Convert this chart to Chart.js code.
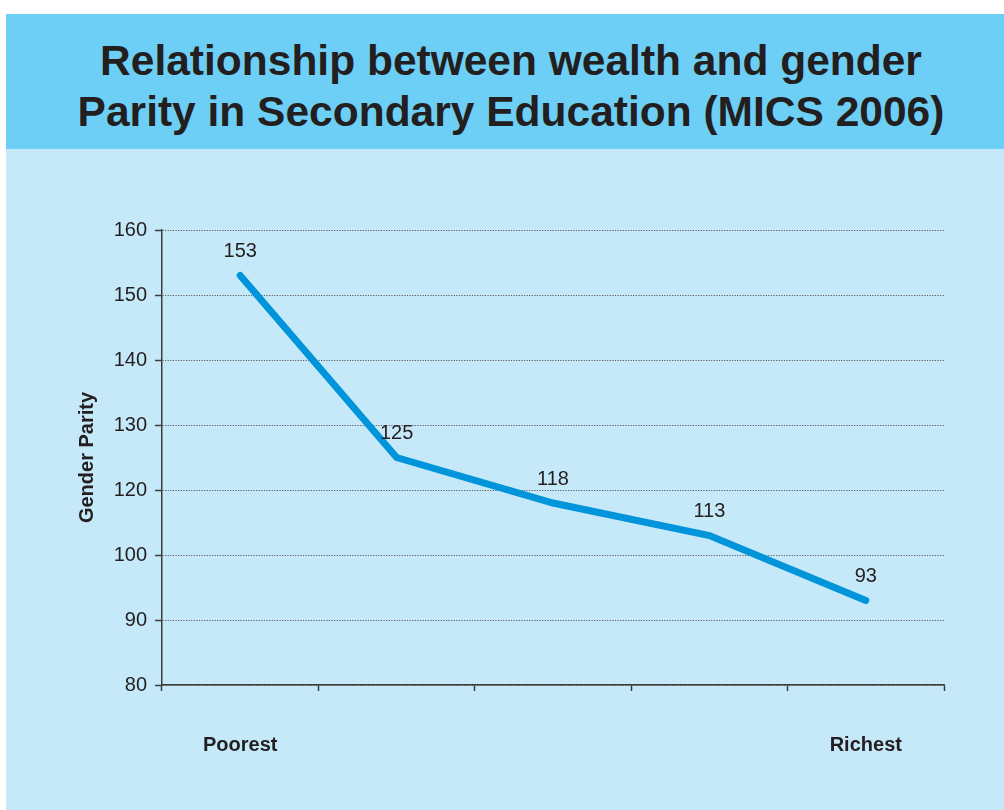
<!DOCTYPE html>
<html>
<head>
<meta charset="utf-8">
<script src="https://cdn.jsdelivr.net/npm/chart.js@4"></script>
<style>
  html, body { margin: 0; padding: 0; background: #ffffff; }
  body { width: 1004px; height: 810px; position: relative; overflow: hidden; font-family: "Liberation Sans", Arial, Helvetica, sans-serif; }
  #panel { position: absolute; left: 6px; top: 14px; width: 998px; height: 796px; background: #c6e9f9; }
  #band { position: absolute; left: 6px; top: 14px; width: 998px; height: 135px; background: #6dcff6; }
  .tline { position: absolute; left: 12px; width: 998px; text-align: center; font-weight: bold; font-size: 42.5px; line-height: 51px; color: #231f20; white-space: nowrap; }
  #chartWrap { position: absolute; left: 0; top: 0; width: 1004px; height: 810px; }
</style>
</head>
<body>
<div id="panel"></div>
<div id="band"></div>
<div class="tline" style="top:35px;">Relationship between wealth and gender</div>
<div class="tline" style="top:86px;">Parity in Secondary Education (MICS 2006)</div>
<div id="chartWrap"><canvas id="c" width="1004" height="810"></canvas></div>
<script>
// ---- data ----
const categories = ['Poorest', '', '', '', 'Richest'];
// positions of the points on the drawn (evenly spaced) value axis
const plotValues = [143, 115, 108, 103, 93];
// value labels printed next to the points
const valueLabels = ['153', '125', '118', '113', '93'];
// tick labels printed on the value axis (note: 110 is absent in the original)
const yTickLabels = ['80', '90', '100', '120', '130', '140', '150', '160'];
const yMin = 80, yMax = 150, yStep = 10;

const FONT = '"Liberation Sans", Arial, Helvetica, sans-serif';
const TEXT = '#231f20';
const AXIS = '#3c3c3c';

const valueLabelPlugin = {
  id: 'valueLabels',
  afterDatasetsDraw(chart) {
    const meta = chart.getDatasetMeta(0);
    const ctx = chart.ctx;
    ctx.save();
    ctx.font = '20px ' + FONT;
    ctx.fillStyle = TEXT;
    ctx.textAlign = 'center';
    ctx.textBaseline = 'middle';
    meta.data.forEach((pt, i) => {
      ctx.fillText(valueLabels[i], pt.x, pt.y - 24);
    });
    ctx.restore();
  }
};

new Chart(document.getElementById('c'), {
  type: 'line',
  data: {
    labels: categories,
    datasets: [{
      data: plotValues,
      borderColor: '#0095da',
      borderWidth: 7,
      borderCapStyle: 'round',
      borderJoinStyle: 'miter',
      pointRadius: 0,
      pointHoverRadius: 0,
      tension: 0,
      fill: false
    }]
  },
  options: {
    responsive: false,
    animation: false,
    events: [],
    layout: { padding: { left: 0, top: 230, right: 60, bottom: 0 } },
    plugins: { legend: { display: false }, tooltip: { enabled: false }, title: { display: false } },
    scales: {
      x: {
        type: 'category',
        offset: true,
        grid: {
          display: true,
          offset: true,
          drawOnChartArea: false,
          drawTicks: true,
          tickLength: 6,
          tickColor: AXIS,
          tickWidth: 1.5
        },
        border: { display: true, color: AXIS, width: 1.5 },
        ticks: {
          autoSkip: false,
          maxRotation: 0,
          minRotation: 0,
          padding: 42,
          color: TEXT,
          font: { family: FONT, size: 20, weight: 'bold' }
        },
        afterFit(scale) { scale.height = 125; }
      },
      y: {
        type: 'linear',
        min: yMin,
        max: yMax,
        grid: {
          display: true,
          color: '#5a5a5a',
          lineWidth: 1,
          drawTicks: true,
          tickLength: 7,
          tickColor: AXIS,
          tickWidth: 1.5,
          tickBorderDash: []
        },
        border: { display: true, color: AXIS, width: 1.5, dash: [1.2, 1.4] },
        ticks: {
          stepSize: yStep,
          padding: 8,
          color: TEXT,
          font: { family: FONT, size: 20 },
          callback: (value, index) => yTickLabels[index]
        },
        title: {
          display: true,
          text: 'Gender Parity',
          color: TEXT,
          font: { family: FONT, size: 20, weight: 'bold' },
          padding: { top: 75, bottom: 0 }
        },
        afterFit(scale) { scale.width = 162; }
      }
    }
  },
  plugins: [valueLabelPlugin]
});
</script>
</body>
</html>
